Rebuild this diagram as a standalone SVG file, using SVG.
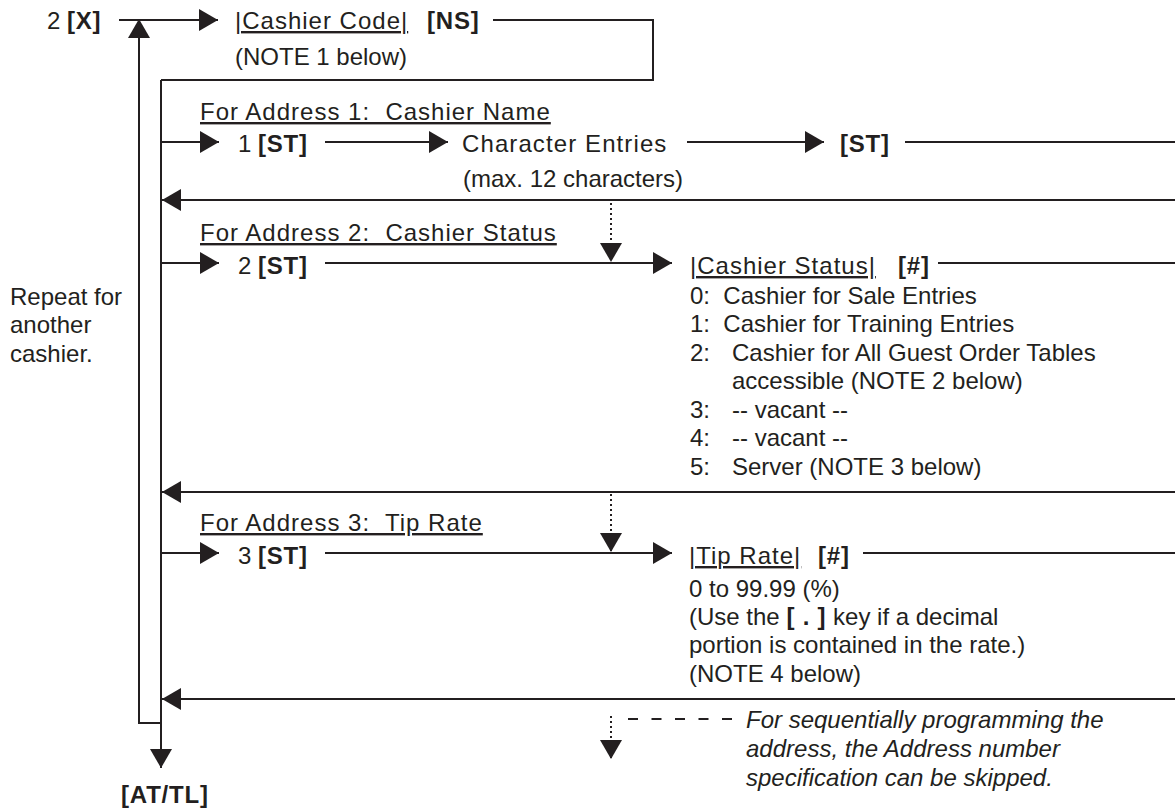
<svg xmlns="http://www.w3.org/2000/svg" width="1175" height="809" viewBox="0 0 1175 809">
<style>
text{font-family:"Liberation Sans",Arial,sans-serif;font-size:24px;fill:#231f20;white-space:pre}
.b{font-weight:bold;letter-spacing:0.8px}
.u{text-decoration:underline;letter-spacing:1px}
.w{letter-spacing:1.1px}
.i{font-style:italic}
.ln{fill:none;stroke:#231f20;stroke-width:2}
.ar{marker-end:url(#ah)}
.dot{stroke-dasharray:2 3}
.dash{stroke-dasharray:10 13.5}
</style>
<defs>
<marker id="ah" markerUnits="userSpaceOnUse" markerWidth="20" markerHeight="22" refX="19" refY="11" orient="auto" viewBox="0 0 20 22">
<path d="M0,0 L19,11 L0,22 Z" fill="#231f20"/>
</marker>
</defs>
<rect width="1175" height="809" fill="#fff"/>
<g id="connectors">
<path class="ln ar" d="M119,20 H218"/>
<path class="ln" d="M493,20 H653 V80 H161"/>
<path class="ln ar" d="M161,80 V768"/>
<path class="ln ar" d="M161,723 H139 V19"/>
<path class="ln ar" d="M161,142 H219"/>
<path class="ln ar" d="M325,142 H448"/>
<path class="ln ar" d="M687,142 H824"/>
<path class="ln" d="M905,142 H1175"/>
<path class="ln ar" d="M1175,200 H162"/>
<path class="ln ar dot" d="M611,203 V262"/>
<path class="ln ar" d="M161,263 H219"/>
<path class="ln ar" d="M325,263 H672"/>
<path class="ln" d="M938,263 H1175"/>
<path class="ln ar" d="M1175,492 H162"/>
<path class="ln ar dot" d="M611,494 V552"/>
<path class="ln ar" d="M161,553 H219"/>
<path class="ln ar" d="M325,553 H672"/>
<path class="ln" d="M863,553 H1175"/>
<path class="ln ar" d="M1175,699 H162"/>
</g>
<g id="n-start"><text x="47" y="29">2 <tspan class="b">[X]</tspan></text></g>
<g id="n-code"><text class="u" x="235" y="29">|Cashier Code|</text><text class="b" x="427" y="29">[NS]</text>
<text x="235" y="65">(NOTE 1 below)</text></g>
<g id="n-repeat"><text x="10" y="305">Repeat for</text><text x="10" y="333">another</text><text x="10" y="362">cashier.</text></g>
<g id="n-addr1">
<text class="u" x="200" y="120">For Address 1:  Cashier Name</text>
<text x="238" y="152">1 <tspan class="b">[ST]</tspan></text>
<text class="w" x="462" y="152">Character Entries</text>
<text x="463" y="187">(max. 12 characters)</text>
<text class="b" x="840" y="152">[ST]</text>
</g>
<g id="n-addr2">
<text class="u" x="200" y="241">For Address 2:  Cashier Status</text>
<text x="238" y="274">2 <tspan class="b">[ST]</tspan></text>
<text class="u" x="690" y="274">|Cashier Status|</text><text class="b" x="898" y="274">[#]</text>
<text x="690" y="304">0:  Cashier for Sale Entries</text>
<text x="690" y="332">1:  Cashier for Training Entries</text>
<text x="690" y="361">2:</text><text x="732" y="361">Cashier for All Guest Order Tables</text>
<text x="732" y="389">accessible (NOTE 2 below)</text>
<text x="690" y="418">3:</text><text x="732" y="418">-- vacant --</text>
<text x="690" y="446">4:</text><text x="732" y="446">-- vacant --</text>
<text x="690" y="475">5:</text><text x="732" y="475">Server (NOTE 3 below)</text>
</g>
<g id="n-addr3">
<text class="u" x="200" y="531">For Address 3:  Tip Rate</text>
<text x="238" y="564">3 <tspan class="b">[ST]</tspan></text>
<text class="u" x="689" y="564">|Tip Rate|</text><text class="b" x="818" y="564">[#]</text>
<text x="689" y="597">0 to 99.99 (%)</text>
<text x="689" y="625">(Use the <tspan class="b">[ . ]</tspan> key if a decimal</text>
<text x="689" y="653">portion is contained in the rate.)</text>
<text x="689" y="682">(NOTE 4 below)</text>
</g>
<g id="n-end"><text class="b" x="121" y="803">[AT/TL]</text></g>
<g id="n-legend">
<path class="ln ar dot" d="M611,716 V759"/>
<path class="ln dash" d="M628,719 H732"/>
<text class="i" x="746" y="728">For sequentially programming the</text>
<text class="i" x="746" y="757">address, the Address number</text>
<text class="i" x="746" y="786">specification can be skipped.</text>
</g>
</svg>
